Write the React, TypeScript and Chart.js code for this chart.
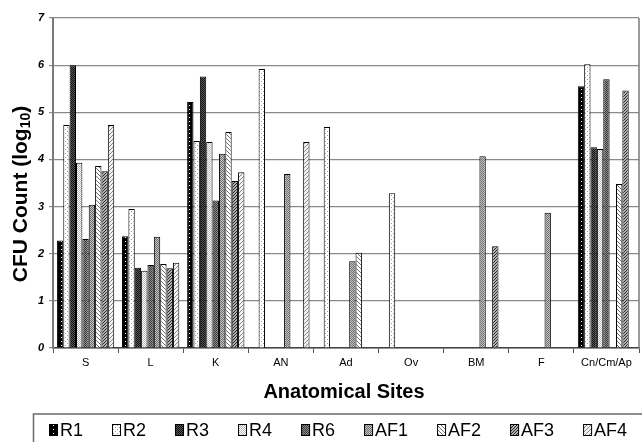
import React, { useEffect, useRef } from 'react';
import { Chart, registerables } from 'chart.js';

Chart.register(...registerables);

const categories = ['S', 'L', 'K', 'AN', 'Ad', 'Ov', 'BM', 'F', 'Cn/Cm/Ap'];
const seriesNames = ['R1', 'R2', 'R3', 'R4', 'R6', 'AF1', 'AF2', 'AF3', 'AF4'];

const R1 = [2.28, 2.37, 5.22, null, null, null, null, null, 5.55];
const R2 = [4.73, 2.95, 4.39, 5.92, 4.69, 3.28, null, null, 6.02];
const R3 = [6.0, 1.7, 5.76, null, null, null, null, null, 4.26];
const R4 = [3.93, 1.64, 4.37, null, null, null, null, null, 4.22];
const R6 = [2.31, 1.76, 3.13, null, null, null, null, null, 5.7];
const AF1 = [3.04, 2.36, 4.12, 3.69, 1.84, null, 4.07, 2.87, null];
const AF2 = [3.86, 1.78, 4.58, null, 2.02, null, null, null, 3.48];
const AF3 = [3.75, 1.69, 3.54, null, null, null, 2.16, null, 5.46];
const AF4 = [4.73, 1.81, 3.73, 4.37, null, null, null, null, null];

const seriesValues = [R1, R2, R3, R4, R6, AF1, AF2, AF3, AF4];
const yTickValues = [0, 1, 2, 3, 4, 5, 6, 7];

const xTitle = 'Anatomical Sites';
const yTitleMain = 'CFU Count (log';
const yTitleSub = '10';
const yTitleEnd = ')';

function makePattern(size: number, bg: string, fg: string, pts: number[][]) {
  const c = document.createElement('canvas');
  c.width = size;
  c.height = size;
  const g = c.getContext('2d')!;
  g.fillStyle = bg;
  g.fillRect(0, 0, size, size);
  g.fillStyle = fg;
  pts.forEach(([x, y]) => g.fillRect(x, y, 1, 1));
  return g.createPattern(c, 'repeat')!;
}

function buildPatterns() {
  const back4 = [[0, 0], [1, 1], [2, 2], [3, 3]];
  const fwd4 = [[3, 0], [2, 1], [1, 2], [0, 3]];
  const fwd3 = [[2, 0], [1, 1], [0, 2]];
  return [
    makePattern(4, '#000000', '#ffffff', [[1, 1]]),
    makePattern(4, '#ffffff', '#9a9a9a', [[1, 1], [3, 3]]),
    makePattern(2, '#111111', '#5a5a5a', [[1, 0], [0, 1]]),
    makePattern(2, '#ffffff', '#b8b8b8', [[1, 0], [0, 1]]),
    makePattern(2, '#3c3c3c', '#8a8a8a', [[1, 0], [0, 1]]),
    makePattern(2, '#6e6e6e', '#c4c4c4', [[1, 0], [0, 1]]),
    makePattern(4, '#ffffff', '#707070', back4),
    makePattern(3, '#b0b0b0', '#2a2a2a', fwd3),
    makePattern(4, '#f2f2f2', '#8a8a8a', fwd4),
  ];
}

const FONT = '"Liberation Sans", Arial, sans-serif';

export default function App() {
  const ref = useRef<HTMLCanvasElement | null>(null);

  useEffect(() => {
    const canvas = ref.current!;
    const patterns = buildPatterns();

    const overlay = {
      id: 'overlay',
      afterDraw(chart: any) {
        const ctx = chart.ctx as CanvasRenderingContext2D;
        const area = chart.chartArea;
        ctx.save();
        // right frame line
        ctx.strokeStyle = '#7a7a7a';
        ctx.lineWidth = 1.5;
        ctx.beginPath();
        ctx.moveTo(area.right, area.top);
        ctx.lineTo(area.right, area.bottom);
        ctx.stroke();

        // x title
        ctx.fillStyle = '#000';
        ctx.font = `bold 20px ${FONT}`;
        ctx.textAlign = 'center';
        ctx.textBaseline = 'middle';
        ctx.fillText(xTitle, (area.left + area.right) / 2 - 2, 392);

        // y title with subscript
        ctx.save();
        ctx.translate(20, 194);
        ctx.rotate(-Math.PI / 2);
        ctx.font = `bold 21px ${FONT}`;
        const w1 = ctx.measureText(yTitleMain).width;
        ctx.font = `bold 14px ${FONT}`;
        const w2 = ctx.measureText(yTitleSub).width;
        ctx.font = `bold 21px ${FONT}`;
        const w3 = ctx.measureText(yTitleEnd).width;
        const total = w1 + w2 + w3;
        let x = -total / 2;
        ctx.textAlign = 'left';
        ctx.textBaseline = 'alphabetic';
        ctx.fillText(yTitleMain, x, 7);
        x += w1;
        ctx.font = `bold 14px ${FONT}`;
        ctx.fillText(yTitleSub, x, 10);
        x += w2;
        ctx.font = `bold 21px ${FONT}`;
        ctx.fillText(yTitleEnd, x, 7);
        ctx.restore();

        // legend
        ctx.strokeStyle = '#6a6a6a';
        ctx.lineWidth = 1.5;
        ctx.strokeRect(33.5, 414, 640, 40);
        ctx.font = `18px ${FONT}`;
        ctx.textAlign = 'left';
        ctx.textBaseline = 'middle';
        let lx = 49;
        chart.data.datasets.forEach((ds: any, i: number) => {
          ctx.fillStyle = patterns[i];
          ctx.fillRect(lx, 424, 9, 12);
          ctx.strokeStyle = '#000';
          ctx.lineWidth = 1;
          ctx.strokeRect(lx + 0.5, 424.5, 8, 11);
          ctx.fillStyle = '#000';
          ctx.fillText(ds.label, lx + 11, 431);
          lx += 11 + ctx.measureText(ds.label).width + 29;
        });
        ctx.restore();
      },
    };

    const chart = new Chart(canvas, {
      type: 'bar',
      data: {
        labels: categories,
        datasets: seriesNames.map((name, i) => ({
          label: name,
          data: seriesValues[i],
          backgroundColor: patterns[i],
          borderColor: '#000',
          borderWidth: 1,
          borderSkipped: 'bottom',
          barPercentage: 1,
          categoryPercentage: 0.88,
        })),
      },
      options: {
        animation: false,
        responsive: false,
        layout: { padding: { left: 0, right: 3, top: 18, bottom: 0 } },
        plugins: {
          legend: { display: false },
          tooltip: { enabled: false },
          title: { display: false },
        },
        scales: {
          x: {
            grid: {
              display: true,
              drawOnChartArea: false,
              drawTicks: true,
              tickLength: 5,
              color: '#555',
              lineWidth: 1,
            },
            border: { display: true, color: '#444', width: 1.5 },
            ticks: {
              color: '#000',
              font: { family: FONT, size: 11 },
              padding: 3,
              maxRotation: 0,
              autoSkip: false,
            },
            afterFit: (s: any) => {
              s.height = 94;
            },
          },
          y: {
            min: 0,
            max: 7,
            afterBuildTicks: (s: any) => {
              s.ticks = yTickValues.map((v) => ({ value: v }));
            },
            grid: {
              color: '#8a8a8a',
              lineWidth: 1.2,
              tickLength: 4,
              drawTicks: true,
            },
            border: { display: true, color: '#7a7a7a', width: 2 },
            ticks: {
              color: '#000',
              font: { family: FONT, size: 11, weight: 'bold', style: 'italic' },
              padding: 5,
            },
            afterFit: (s: any) => {
              s.width = 53;
            },
          },
        },
      },
      plugins: [overlay],
    } as any);

    return () => chart.destroy();
  }, []);

  return (
    <div style={{ position: 'fixed', left: 0, top: 0, width: 642, height: 442, background: '#fff' }}>
      <canvas ref={ref} width={642} height={442} style={{ display: 'block' }} />
    </div>
  );
}
